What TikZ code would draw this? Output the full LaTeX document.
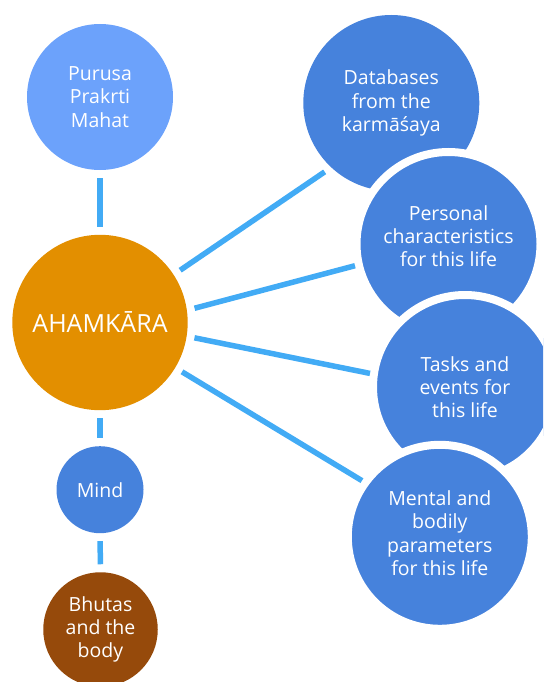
\documentclass[tikz,border=0pt]{standalone}
\usepackage{fontspec}
\setmainfont{Open Sans}
\definecolor{lightb}{HTML}{6CA2FB}
\definecolor{midb}{HTML}{4682DC}
\definecolor{orng}{HTML}{E38F00}
\definecolor{brwn}{HTML}{964A0B}
\definecolor{conn}{HTML}{42ABF5}
\begin{document}
\begin{tikzpicture}[x=1pt,y=-1pt,
  circ/.style={circle, inner sep=0pt, outer sep=0pt, text=white, align=center,
    font=\fontsize{19.5}{23.3}\selectfont},
  ring/.style={circ, draw=white, line width=8pt},
  link/.style={draw=conn, line width=5.5pt, shorten <=8pt, shorten >=8pt}]
\useasboundingbox (0,0) rectangle (543,682);
\clip (0,0) rectangle (543,682);
\node[circ, fill=lightb, minimum size=146pt] (pur) at (100,97) {Purusa\\Prakrti\\Mahat};
\node[circ, fill=orng, minimum size=175.4pt, font=\fontsize{25}{30}\selectfont] (aham) at (100,322.5) {AHAMKĀRA};
\node[circ, fill=midb, minimum size=87pt] (mind) at (100,489.7) {Mind};
\node[circ, fill=brwn, minimum size=114.5pt] (bhut) at (100.5,629.5) {Bhutas\\and the\\body};
\node[circ, fill=midb, minimum size=176pt] (db) at (391.3,103) {Databases\\from the\\karmāśaya};
\node[ring, fill=midb, minimum size=184pt] (pers) at (448.5,244) {};
\node[circ] (perstext) at ([yshift=8pt]pers.center) {Personal\\characteristics\\for this life};
\node[ring, fill=midb, minimum size=184pt] (task) at (465,387) {Tasks and\\events for\\this life};
\node[ring, fill=midb, minimum size=184pt] (ment) at (439.8,536.8) {};
\node[circ] (menttext) at ([yshift=3.5pt]ment.center) {Mental and\\bodily\\parameters\\for this life};
\draw[link] (pur.south) -- (aham.north);
\draw[link] (aham.south) -- (mind.north);
\draw[link] (mind.south) -- (bhut.north);
\draw[link] (aham.33.3) -- (db.227);
\draw[link, shorten >=4pt] (aham.8.5) -- (pers.193);
\draw[link, shorten >=4pt] (aham.-9.5) -- (task.172.5);
\draw[link, shorten >=4pt] (aham.-31.9) -- (ment.144);
\end{tikzpicture}
\end{document}
